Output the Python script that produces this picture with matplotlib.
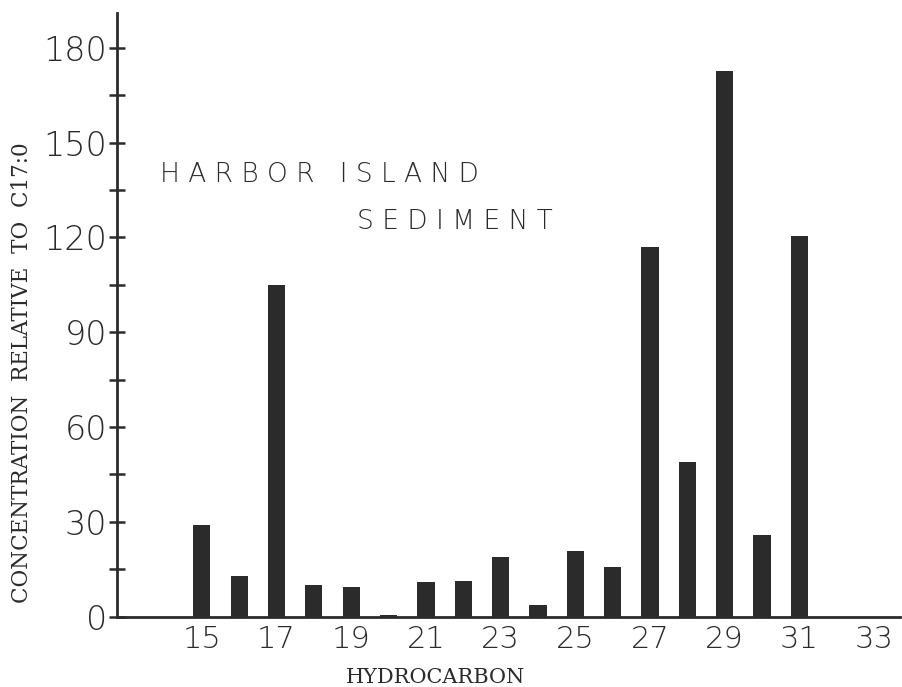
import numpy as np
import matplotlib
matplotlib.use('Agg')
import matplotlib.pyplot as plt

# carbon number of each hydrocarbon and its concentration relative to C17:0
carbons = [15, 16, 17, 18, 19, 20, 21, 22, 23, 24, 25, 26, 27, 28, 29, 30, 31]
conc = [29, 13, 105, 10, 9.5, 0.6, 11, 11.4, 19, 3.8, 20.7, 15.7, 117, 49, 172.7, 26, 120.5]

xticks = [15, 17, 19, 21, 23, 25, 27, 29, 31, 33]
yticks = [0, 30, 60, 90, 120, 150, 180]
yminor = [15, 45, 75, 105, 135, 165]

ink = '#2b2b2b'

fig = plt.figure(figsize=(9.03, 6.87), dpi=100)
ax = fig.add_axes([0.1296, 0.1023, 0.8674, 0.8787])

ax.bar(carbons, conc, width=0.46, color=ink, linewidth=0)

ax.set_xlim(12.73, 33.7)
ax.set_ylim(0, 191)
ax.spines['top'].set_visible(False)
ax.spines['right'].set_visible(False)
for s in ('left', 'bottom'):
    ax.spines[s].set_linewidth(2)
    ax.spines[s].set_color(ink)

ax.set_xticks(xticks)
ax.set_xticklabels([str(x) for x in xticks])
ax.set_yticks(yticks)
ax.set_yticks(yminor, minor=True)
ax.tick_params(axis='x', length=0, pad=6, labelsize=22, colors=ink)
ax.tick_params(axis='y', which='both', direction='inout', length=12, width=1.8,
               pad=1, labelsize=24, colors=ink)
for lab in ax.get_xticklabels() + ax.get_yticklabels():
    lab.set_fontweight('light')

ax.set_xlabel('HYDROCARBON', family='DejaVu Serif', size=15, color=ink)
ax.xaxis.set_label_coords(0.407, -0.085)
ax.set_ylabel('CONCENTRATION  RELATIVE  TO  C17:0', family='DejaVu Serif', size=15.5,
              color=ink)
ax.yaxis.set_label_coords(-0.107, 0.405)

ax.text(0.055, 0.732, 'H A R B O R   I S L A N D', transform=ax.transAxes,
        size=19, color=ink, va='center', ha='left', fontweight='light')
ax.text(0.306, 0.654, 'S E D I M E N T', transform=ax.transAxes,
        size=19, color=ink, va='center', ha='left', fontweight='light')

fig.savefig('out.png', dpi=100)
